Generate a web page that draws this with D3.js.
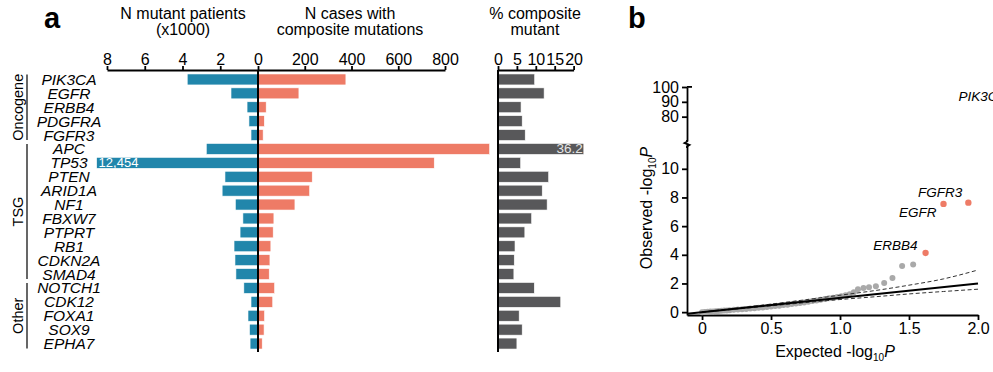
<!DOCTYPE html>
<html>
<head>
<meta charset="utf-8">
<script src="https://cdn.jsdelivr.net/npm/d3@7"></script>
<style>
  body { margin: 0; background: #fff; }
  svg { font-family: "Liberation Sans", Arial, sans-serif; }
  .axis path, .axis line { stroke: #000; stroke-width: 1.8; }
  .axis text { font-size: 16px; fill: #000; font-family: "Liberation Sans", Arial, sans-serif; }
</style>
</head>
<body>
<script>
// panel a data
const genes = ["PIK3CA", "EGFR", "ERBB4", "PDGFRA", "FGFR3",
  "APC", "TP53", "PTEN", "ARID1A", "NF1", "FBXW7", "PTPRT", "RB1", "CDKN2A", "SMAD4",
  "NOTCH1", "CDK12", "FOXA1", "SOX9", "EPHA7"];
const mutantPatients = [3.75, 1.43, 0.58, 0.48, 0.37,
  2.74, 12.454, 1.75, 1.9, 1.2, 0.8, 0.95, 1.27, 1.22, 1.17,
  0.75, 0.37, 0.53, 0.45, 0.42];          // x1000
const compositeCases = [376, 175, 35, 27, 22,
  991, 754, 232, 221, 158, 68, 65, 55, 51, 48,
  71, 63, 28, 26, 18];
const compositePct = [9.7, 12.2, 6.1, 6.4, 7.2,
  36.2, 6.0, 13.4, 11.7, 13.0, 8.9, 7.1, 4.5, 4.3, 4.2,
  9.6, 16.6, 5.6, 6.4, 5.0];
const groupNames = ["Oncogene", "TSG", "Other"];
const groupFirst = ["PIK3CA", "APC", "NOTCH1"];
const groupLast = ["FGFR3", "SMAD4", "EPHA7"];
const mutantTicks = [8, 6, 4, 2, 0];
const caseTicks = [200, 400, 600, 800];
const pctTicks = [0, 5, 10, 15, 20];

// panel b data
const qqExpected = [0.00, 0.02, 0.04, 0.06, 0.08, 0.10, 0.12, 0.14, 0.16, 0.18, 0.20, 0.23, 0.26, 0.29,
  0.32, 0.35, 0.38, 0.41, 0.44, 0.47, 0.50, 0.53, 0.56, 0.59, 0.62, 0.65, 0.68, 0.71, 0.74, 0.77,
  0.80, 0.83, 0.86, 0.89, 0.92, 0.95, 0.98, 1.01, 1.04, 1.07, 1.10, 1.13, 1.17, 1.21, 1.26, 1.32,
  1.38, 1.45, 1.53];
const qqObserved = [0.00, 0.01, 0.02, 0.04, 0.05, 0.06, 0.08, 0.09, 0.11, 0.12, 0.14, 0.16, 0.18, 0.20,
  0.22, 0.25, 0.27, 0.30, 0.33, 0.36, 0.39, 0.42, 0.45, 0.49, 0.52, 0.56, 0.60, 0.64, 0.68, 0.72,
  0.77, 0.81, 0.86, 0.91, 0.96, 1.01, 1.06, 1.11, 1.18, 1.25, 1.38, 1.60, 1.68, 1.73, 1.80, 2.03,
  2.38, 3.22, 3.33];
const hitGenes = ["PIK3CA", "FGFR3", "EGFR", "ERBB4"];
const hitExpected = [2.25, 1.93, 1.75, 1.62];
const hitObserved = [93, 7.64, 7.55, 4.13];
const ciExpected = [0, 0.5, 1.0, 1.25, 1.5, 1.75, 2.0];
const ciUpper = [0.02, 0.56, 1.18, 1.5, 1.88, 2.32, 2.94];
const ciLower = [-0.01, 0.44, 0.88, 1.07, 1.27, 1.44, 1.6];
const expTicks = [0, 0.5, 1, 1.5, 2];
const obsLowTicks = [0, 2, 4, 6, 8, 10];
const obsHighTicks = [80, 90, 100];

const blue = "#2186ab", red = "#ee7b66", grey = "#58585a";

const svg = d3.select("body").append("svg")
  .attr("width", 993)
  .attr("height", 372);

// ---------- panel a ----------
const y = d3.scaleBand().domain(genes).range([72.5, 350.5]).paddingInner(0.21).paddingOuter(0.105);
const xMut = d3.scaleLinear().domain([0, 8]).range([258, 107]);
const xCase = d3.scaleLinear().domain([0, 800]).range([258, 445]);
const xPct = d3.scaleLinear().domain([0, 20]).range([498, 573.6]);
const rows = genes.map((g, i) => ({gene: g, mut: mutantPatients[i], cases: compositeCases[i], pct: compositePct[i]}));

svg.append("text").attr("x", 44).attr("y", 28).style("font-size", "29px").style("font-weight", "bold").text("a");
svg.append("text").attr("x", 628).attr("y", 28).style("font-size", "29px").style("font-weight", "bold").text("b");

// titles
function title(x, lines) {
  const t = svg.append("text").attr("text-anchor", "middle").style("font-size", "16px");
  lines.forEach((l, i) => t.append("tspan").attr("x", x).attr("y", 19 + i * 16).text(l));
}
title(183, ["N mutant patients", "(x1000)"]);
title(350, ["N cases with", "composite mutations"]);
title(535, ["% composite", "mutant"]);

// bars
const bars = svg.append("g");
bars.selectAll(".mut").data(rows).enter().append("rect")
  .attr("x", d => xMut(Math.min(d.mut, 8.55)))
  .attr("y", d => y(d.gene))
  .attr("width", d => xMut(0) - xMut(Math.min(d.mut, 8.55)))
  .attr("height", y.bandwidth())
  .attr("fill", blue).attr("stroke", "#fff").attr("stroke-width", 0.6);
bars.selectAll(".case").data(rows).enter().append("rect")
  .attr("x", xCase(0))
  .attr("y", d => y(d.gene))
  .attr("width", d => xCase(d.cases) - xCase(0))
  .attr("height", y.bandwidth())
  .attr("fill", red).attr("stroke", "#fff").attr("stroke-width", 0.6);
bars.selectAll(".pct").data(rows).enter().append("rect")
  .attr("x", xPct(0))
  .attr("y", d => y(d.gene))
  .attr("width", d => xPct(Math.min(d.pct, 22.7)) - xPct(0))
  .attr("height", y.bandwidth())
  .attr("fill", grey).attr("stroke", "#fff").attr("stroke-width", 0.6);

// values for the cut bars
rows.filter(d => d.mut > 8).forEach(d => {
  svg.append("text").attr("x", xMut(8.55) + 2).attr("y", y(d.gene) + y.bandwidth() / 2 + 4.5)
    .style("font-size", "13px").attr("fill", "#fff").text(d3.format(",")(Math.round(d.mut * 1000)));
});
rows.filter(d => d.pct > 20).forEach(d => {
  svg.append("text").attr("x", xPct(22.7) - 1).attr("y", y(d.gene) + y.bandwidth() / 2 + 4.5)
    .attr("text-anchor", "end").style("font-size", "13.5px").attr("fill", "#e6e6e6").text(d.pct);
});

// Add top axes
svg.append("g").attr("class", "axis").attr("transform", "translate(0,70)")
  .call(d3.axisTop(xMut).tickValues(mutantTicks).tickSize(4).tickSizeOuter(0).tickPadding(1));
svg.append("g").attr("class", "axis").attr("transform", "translate(0,70)")
  .call(d3.axisTop(xCase).tickValues(caseTicks).tickSize(4).tickSizeOuter(0).tickPadding(1));
svg.append("g").attr("class", "axis").attr("transform", "translate(0,70)")
  .call(d3.axisTop(xPct).tickValues(pctTicks).tickSize(4).tickSizeOuter(0).tickPadding(1));
svg.selectAll(".axis .domain").attr("stroke-width", 2);

// zero lines
svg.append("line").attr("x1", xMut(0)).attr("x2", xMut(0)).attr("y1", 70).attr("y2", 352)
  .attr("stroke", "#000").attr("stroke-width", 2);
svg.append("line").attr("x1", xPct(0)).attr("x2", xPct(0)).attr("y1", 70).attr("y2", 352)
  .attr("stroke", "#000").attr("stroke-width", 2);

// gene names
svg.selectAll(".gene").data(genes).enter().append("text")
  .attr("x", 69)
  .attr("y", d => y(d) + y.bandwidth() / 2 + 5.5)
  .attr("text-anchor", "middle")
  .style("font-size", "15.5px").style("font-style", "italic")
  .text(d => d);

// group brackets
groupNames.forEach((name, i) => {
  const top = y(groupFirst[i]) + 0.5;
  const bot = y(groupLast[i]) + y.bandwidth() - 0.5;
  svg.append("line").attr("x1", 27).attr("x2", 27).attr("y1", top).attr("y2", bot)
    .attr("stroke", "#000").attr("stroke-width", 1.2);
  svg.append("text")
    .attr("transform", "translate(23," + (top + bot) / 2 + ") rotate(-90)")
    .attr("text-anchor", "middle").style("font-size", "14.5px").text(name);
});

// ---------- panel b ----------
const xq = d3.scaleLinear().domain([-0.109, 2]).range([687, 978]);
const yLow = d3.scaleLinear().domain([-0.2, 11.8]).range([315, 143]);
const yHigh = d3.scaleLinear().domain([63.6, 100]).range([141, 87]);
const yq = v => v > 40 ? yHigh(v) : yLow(v);

// Add X axis
svg.append("g").attr("class", "axis").attr("transform", "translate(0,315)")
  .call(d3.axisBottom(xq).tickValues(expTicks).tickSize(5).tickSizeOuter(0).tickPadding(3)
    .tickFormat(d => d === 0 ? "0" : d3.format(".1f")(d)))
  .select(".domain").attr("stroke-width", 2.6);

// Add Y axis (broken)
svg.append("g").attr("class", "axis").attr("transform", "translate(687,0)")
  .call(d3.axisLeft(yLow).tickValues(obsLowTicks).tickSize(5).tickSizeOuter(0).tickPadding(3));
svg.append("g").attr("class", "axis").attr("transform", "translate(687,0)")
  .call(d3.axisLeft(yHigh).tickValues(obsHighTicks).tickSize(5).tickSizeOuter(0).tickPadding(3));
svg.append("path")
  .attr("d", "M687,140 L687,141.5 L684.5,143 L689.5,145 L687,146.5 L687,148")
  .attr("fill", "none").attr("stroke", "#000").attr("stroke-width", 1.8);
svg.append("rect").attr("x", 687).attr("y", 86).attr("width", 5).attr("height", 1.8).attr("fill", "#000");

// axis titles
const yt = svg.append("text")
  .attr("transform", "translate(652,208) rotate(-90)")
  .attr("text-anchor", "middle").style("font-size", "16px");
yt.append("tspan").text("Observed -log");
yt.append("tspan").attr("dy", 4).style("font-size", "10px").text("10");
yt.append("tspan").attr("dy", -4).style("font-style", "italic").text("P");
const xt = svg.append("text").attr("x", 835).attr("y", 357)
  .attr("text-anchor", "middle").style("font-size", "16px");
xt.append("tspan").text("Expected -log");
xt.append("tspan").attr("dy", 4).style("font-size", "10px").text("10");
xt.append("tspan").attr("dy", -4).style("font-style", "italic").text("P");

// grey points
const qq = qqExpected.map((e, i) => ({e: e, o: qqObserved[i]}));
svg.append("g").selectAll("circle").data(qq).enter().append("circle")
  .attr("cx", d => xq(d.e))
  .attr("cy", d => yq(d.o))
  .attr("r", 3)
  .attr("fill", "#a9a9a9");

// confidence band
const ci = ciExpected.map((e, i) => ({e: e, u: ciUpper[i], l: ciLower[i]}));
const ciLine = key => d3.line().x(d => xq(d.e)).y(d => yLow(d[key])).curve(d3.curveMonotoneX);
svg.append("path").datum(ci).attr("d", ciLine("u"))
  .attr("fill", "none").attr("stroke", "#333").attr("stroke-width", 1).attr("stroke-dasharray", "4,2.5");
svg.append("path").datum(ci).attr("d", ciLine("l"))
  .attr("fill", "none").attr("stroke", "#333").attr("stroke-width", 1).attr("stroke-dasharray", "4,2.5");

// identity line
svg.append("line")
  .attr("x1", xq(-0.109)).attr("y1", yLow(-0.109))
  .attr("x2", xq(2)).attr("y2", yLow(2))
  .attr("stroke", "#000").attr("stroke-width", 2);

// highlighted genes
const labelOffset = {PIK3CA: [-6, 4], FGFR3: [-6, -6], EGFR: [-7, 13], ERBB4: [-8, -3]};
const hits = hitGenes.map((g, i) => ({gene: g, e: hitExpected[i], o: hitObserved[i]}));
svg.append("g").selectAll("circle").data(hits).enter().append("circle")
  .attr("cx", d => xq(d.e))
  .attr("cy", d => yq(d.o))
  .attr("r", 3.2)
  .attr("fill", red);
svg.append("g").selectAll("text").data(hits).enter().append("text")
  .attr("x", d => xq(d.e) + labelOffset[d.gene][0])
  .attr("y", d => yq(d.o) + labelOffset[d.gene][1])
  .attr("text-anchor", "end")
  .style("font-size", "13.5px").style("font-style", "italic")
  .text(d => d.gene);
</script>
</body>
</html>
